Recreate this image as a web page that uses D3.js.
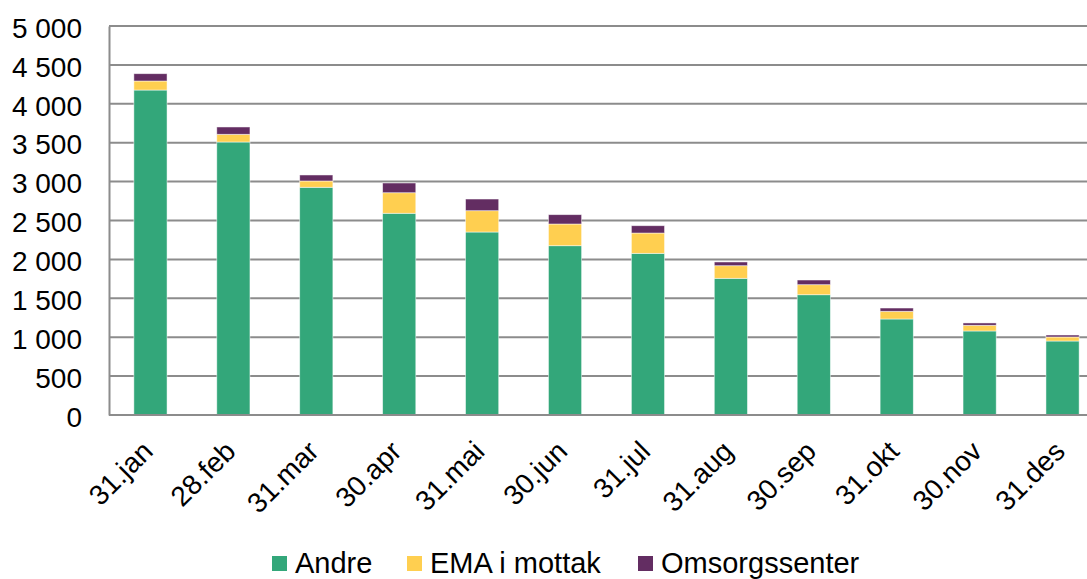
<!DOCTYPE html>
<html><head><meta charset="utf-8">
<script src="https://cdn.jsdelivr.net/npm/d3@7"></script>
<style>
html,body{margin:0;padding:0;background:#fff;}
svg{display:block;font-family:"Liberation Sans",Arial,sans-serif;}
</style></head>
<body><svg id="c" width="1087" height="579"></svg>
<script>
const categories = ["31.jan","28.feb","31.mar","30.apr","31.mai","30.jun","31.jul","31.aug","30.sep","31.okt","30.nov","31.des"];
const andre = [4177,3509,2927,2593,2352,2176,2078,1757,1546,1234,1080,951];
const emaMottak = [116,99,81,264,274,279,261,162,129,99,73,52];
const omsorgssenter = [94,94,77,125,150,120,94,48,60,42,30,25];
const seriesNames = ["Andre","EMA i mottak","Omsorgssenter"];
const colors = ["#33A77A","#FFCF50","#632D62"];
const yTicks = [0,500,1000,1500,2000,2500,3000,3500,4000,4500,5000];

(function(){
const rows = categories.map((c,i)=>({cat:c,"Andre":andre[i],"EMA i mottak":emaMottak[i],"Omsorgssenter":omsorgssenter[i]}));
const stack = d3.stack().keys(seriesNames)(rows);

const FS = 28;
const svg = d3.select("#c");
const pL=109, pR=1104, pT=26, pB=415;
const x = d3.scaleBand().domain(categories).range([pL,pR]).paddingInner(0.6).paddingOuter(0.3);
const y = d3.scaleLinear().domain([0,5000]).range([pB,pT]);
const fmt = d3.formatLocale({decimal:",",thousands:" ",grouping:[3],currency:["",""]}).format(",d");

// gridlines
svg.append("g").selectAll("line").data(yTicks.filter(t=>t>0)).join("line")
  .attr("x1",pL).attr("x2",1087).attr("y1",d=>y(d)).attr("y2",d=>y(d))
  .attr("stroke","#8c8c8c").attr("stroke-width",2);

// bars
svg.append("g").selectAll("g").data(stack).join("g")
  .attr("fill",(d,i)=>colors[i])
  .selectAll("rect").data(d=>d).join("rect")
  .attr("x",d=>x(d.data.cat)).attr("width",x.bandwidth())
  .attr("y",d=>y(d[1])).attr("height",d=>y(d[0])-y(d[1]))
  .attr("stroke","rgba(255,255,255,0.6)").attr("stroke-width",0.8);

// y axis
const ya = svg.append("g").attr("transform",`translate(${pL},0)`)
  .call(d3.axisLeft(y).tickValues(yTicks).tickFormat(fmt).tickSize(0).tickPadding(27));
ya.select(".domain").attr("stroke","#8c8c8c").attr("stroke-width",2);
ya.selectAll("text").attr("font-size",FS).attr("fill","#000").attr("font-family","Liberation Sans, Arial, sans-serif")
  .attr("dy","0.4em");

// x axis
const xa = svg.append("g").attr("transform",`translate(0,${pB})`)
  .call(d3.axisBottom(x).tickSize(0).tickPadding(0));
xa.select(".domain").attr("stroke","#8c8c8c").attr("stroke-width",2).attr("d",`M${pL},0H1087`);
xa.selectAll("text").attr("font-size",FS).attr("fill","#000").attr("font-family","Liberation Sans, Arial, sans-serif")
  .attr("text-anchor","end").attr("dy",null).attr("y",0)
  .attr("transform","translate(4,38) rotate(-45)");

// legend
const lg = svg.append("g");
const lx = [272,407,638];
seriesNames.forEach((n,i)=>{
  lg.append("rect").attr("x",lx[i]).attr("y",556).attr("width",15).attr("height",15).attr("fill",colors[i]);
  lg.append("text").attr("x",lx[i]+23).attr("y",573).attr("font-size",29).attr("fill","#000").text(n);
});
})();
</script></body></html>
